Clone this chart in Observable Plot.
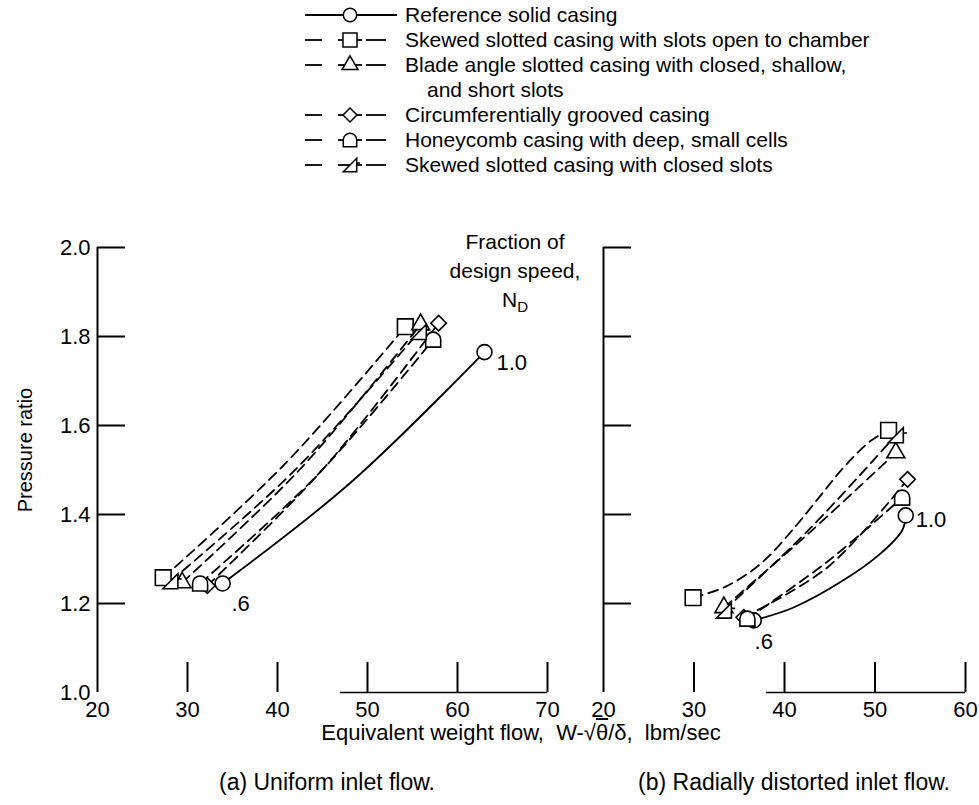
<!DOCTYPE html>
<html><head><meta charset="utf-8">
<script src="https://cdn.jsdelivr.net/npm/d3@7"></script>
<script src="https://cdn.jsdelivr.net/npm/@observablehq/plot@0.6"></script>
<style>
html,body{margin:0;padding:0;background:#fff;}
#fig{position:relative;width:979px;height:805px;overflow:hidden;color:#000;
 font-family:"Liberation Sans Narrow","Liberation Sans",Arial,sans-serif;}
.abs{position:absolute;white-space:nowrap;font-size:22px;line-height:1;}
.plot{position:absolute;top:200px;}
</style></head><body><div id="fig"></div>
<script>
// ---------- data ----------
const seriesNames = [
  "Reference solid casing",
  "Skewed slotted casing with slots open to chamber",
  "Blade angle slotted casing with closed, shallow, and short slots",
  "Circumferentially grooved casing",
  "Honeycomb casing with deep, small cells",
  "Skewed slotted casing with closed slots"
];
const legendLines = [
  "Reference solid casing",
  "Skewed slotted casing with slots open to chamber",
  "Blade angle slotted casing with closed, shallow,",
  "and short slots",
  "Circumferentially grooved casing",
  "Honeycomb casing with deep, small cells",
  "Skewed slotted casing with closed slots"
];
const speedLabels = ["1.0", ".6"];
const xTicksA = [20, 30, 40, 50, 60, 70];
const xTicksB = [20, 30, 40, 50, 60];
const yTicks = [1.0, 1.2, 1.4, 1.6, 1.8, 2.0];
const captionA = "(a) Uniform inlet flow.";
const captionB = "(b) Radially distorted inlet flow.";
const yTitle = "Pressure ratio";

// points: [equivalent weight flow, pressure ratio, fraction of design speed (null = point read on faired curve)]
// (a) uniform inlet flow
const aReference  = [[33.9,1.245,0.6],[48.2,1.473,null],[63.0,1.765,1.0]];
const aSkewedOpen = [[27.3,1.258,0.6],[40.8,1.513,null],[54.2,1.822,1.0]];
const aBladeAngle = [[29.4,1.247,0.6],[42.7,1.506,null],[55.9,1.827,1.0]];
const aGrooved    = [[32.2,1.240,0.6],[45.1,1.503,null],[57.9,1.830,1.0]];
const aHoneycomb  = [[31.4,1.245,0.6],[44.4,1.488,null],[57.3,1.793,1.0]];
const aSkewClosed = [[28.1,1.250,0.6],[41.9,1.499,null],[55.7,1.810,1.0]];
// (b) radially distorted inlet flow
const bReference  = [[36.6,1.162,0.6],[41.0,1.191,null],[46.5,1.252,null],[50.6,1.312,null],[53.0,1.364,null],[53.4,1.398,1.0]];
const bSkewedOpen = [[29.9,1.213,0.6],[33.5,1.238,null],[37.3,1.288,null],[41.0,1.368,null],[44.0,1.443,null],[46.5,1.505,null],[49.5,1.565,null],[51.5,1.589,1.0]];
const bBladeAngle = [[33.3,1.191,0.6],[42.8,1.360,null],[52.3,1.539,1.0]];
const bGrooved    = [[35.5,1.169,0.6],[44.8,1.282,null],[53.6,1.479,1.0]];
const bHoneycomb  = [[35.9,1.166,0.6],[44.8,1.295,null],[53.0,1.438,1.0]];
const bSkewClosed = [[33.3,1.184,0.6],[42.8,1.368,null],[52.3,1.578,1.0]];

// ---------- styling ----------
const FONT = '"Liberation Sans Narrow","Liberation Sans",Arial,sans-serif';
const symHoney = {draw(ctx, size){const R=Math.sqrt(size/Math.PI);ctx.moveTo(-R,0);ctx.arc(0,0,R,Math.PI,2*Math.PI);ctx.lineTo(R,R);ctx.lineTo(-R,R);ctx.closePath();}};
const symSkew = {draw(ctx, size){const R=Math.sqrt(size/Math.PI);ctx.moveTo(-R,R);ctx.lineTo(R,-R);ctx.lineTo(R,R);ctx.closePath();ctx.moveTo(R,-R*0.3);ctx.lineTo(R+R*0.5,-R*0.3);}};
const styles = [
  {symbol: d3.symbolCircle, r: 7.5, dash: null},
  {symbol: d3.symbolSquare2, r: 10, dash: "10,6"},
  {symbol: d3.symbolTriangle2, r: 8.5, dash: "10,6"},
  {symbol: d3.symbolDiamond2, r: 7, dash: "10,6"},
  {symbol: symHoney, r: 7.5, dash: "10,6"},
  {symbol: symSkew, r: 7.5, dash: "10,6"}
];

const fig = document.getElementById("fig");

function panel(seriesData, {xDomain, xTicks, width, marginLeft, marginRight, yLabels, baseline, refLabelOffsets}) {
  const k = (width - marginLeft - marginRight) / (xDomain[1] - xDomain[0]);
  const ky = 445; // px per unit of pressure ratio
  const x0 = xDomain[0];
  const marks = [];
  marks.push(Plot.ruleX([x0], {y1: 1, y2: 2, strokeWidth: 2}));
  marks.push(Plot.ruleY(yTicks.filter(d => d > 1), {x1: x0, x2: x0 + 28 / k, strokeWidth: 2}));
  marks.push(Plot.ruleX(xTicks.filter(d => d > x0), {y1: 1, y2: 1 + 30 / ky, strokeWidth: 2}));
  marks.push(Plot.ruleY([1], {x1: baseline[0], x2: baseline[1], strokeWidth: 1.5}));
  seriesData.forEach((pts, i) => {
    marks.push(Plot.line(pts, {x: d => d[0], y: d => d[1], curve: "catmull-rom", stroke: "black", strokeWidth: 1.8, strokeDasharray: styles[i].dash}));
  });
  seriesData.forEach((pts, i) => {
    marks.push(Plot.dot(pts.filter(d => d[2] != null), {x: d => d[0], y: d => d[1], symbol: styles[i].symbol, r: styles[i].r, stroke: "black", fill: "white", strokeWidth: 1.6}));
  });
  const ref = seriesData[0];
  const hi = ref.filter(d => d[2] === 1.0), lo = ref.filter(d => d[2] === 0.6);
  marks.push(Plot.text(hi, {x: d => d[0], y: d => d[1], text: () => speedLabels[0], textAnchor: "start", dx: refLabelOffsets[0][0], dy: refLabelOffsets[0][1], fontSize: 22}));
  marks.push(Plot.text(lo, {x: d => d[0], y: d => d[1], text: () => speedLabels[1], textAnchor: "middle", dx: refLabelOffsets[1][0], dy: refLabelOffsets[1][1], fontSize: 22}));
  if (yLabels) {
    marks.push(Plot.axisY(yTicks, {tickSize: 0, tickPadding: 7, tickFormat: d3.format(".1f"), fontSize: 22, label: null}));
    marks.push(Plot.text([yTitle], {frameAnchor: "left", textAnchor: "middle", rotate: -90, dx: -72, dy: -20, fontSize: 20}));
  }
  marks.push(Plot.axisX(xTicks, {tickSize: 0, tickPadding: 9, tickFormat: d => String(d), fontSize: 22, label: null}));
  return Plot.plot({
    width, height: 520, marginLeft, marginRight, marginTop: 47, marginBottom: 28,
    x: {domain: xDomain}, y: {domain: [1, 2], axis: null},
    style: {fontFamily: FONT, fontSize: "22px", background: "transparent", overflow: "visible", color: "black"},
    marks
  });
}

const left = panel([aReference, aSkewedOpen, aBladeAngle, aGrooved, aHoneycomb, aSkewClosed], {
  xDomain: [20, 70], xTicks: xTicksA, width: 560, marginLeft: 97, marginRight: 13, yLabels: true,
  baseline: [47, 70], refLabelOffsets: [[12, 11], [18, 20]]
});
left.classList.add("plot"); left.style.left = "0px";
fig.appendChild(left);

const right = panel([bReference, bSkewedOpen, bBladeAngle, bGrooved, bHoneycomb, bSkewClosed], {
  xDomain: [20, 60], xTicks: xTicksB, width: 419, marginLeft: 43, marginRight: 14, yLabels: false,
  baseline: [38, 60], refLabelOffsets: [[10, 5], [10, 22]]
});
right.classList.add("plot"); right.style.left = "560px";
fig.appendChild(right);

// ---------- legend ----------
const lg = d3.select(fig).append("svg").attr("width", 979).attr("height", 195)
  .style("position", "absolute").style("left", "0px").style("top", "0px")
  .style("font-family", FONT).style("font-size", "21px");
const seriesRows = [0, 1, 2, 4, 5, 6];
const rowY = i => 15 + 25 * i;
legendLines.forEach((t, i) => {
  lg.append("text").attr("x", i === 3 ? 427 : 405).attr("y", rowY(i)).attr("dy", "0.35em").text(t);
});
seriesRows.forEach((row, si) => {
  const y = rowY(row);
  const g = lg.append("g");
  if (si === 0) {
    g.append("line").attr("x1", 305).attr("x2", 397).attr("y1", y).attr("y2", y).attr("stroke", "black").attr("stroke-width", 1.8);
  } else {
    [[305, 322], [338, 362], [366, 386]].forEach(([a, b]) =>
      g.append("line").attr("x1", a).attr("x2", b).attr("y1", y).attr("y2", y).attr("stroke", "black").attr("stroke-width", 1.8));
  }
  const st = styles[si];
  g.append("path").attr("transform", `translate(350,${y})`)
    .attr("d", d3.symbol(st.symbol, Math.PI * st.r * st.r * 0.8)())
    .attr("fill", "white").attr("stroke", "black").attr("stroke-width", 1.5);
});

// ---------- texts ----------
function addText(html, x, y, anchor, size) {
  const d = document.createElement("div");
  d.className = "abs"; d.innerHTML = html;
  if (size) d.style.fontSize = size + "px";
  d.style.top = (y - (size || 22) / 2) + "px"; d.style.left = x + "px";
  if (anchor === "middle") d.style.transform = "translateX(-50%)";
  fig.appendChild(d); return d;
}
const fr = addText("Fraction of<br>design speed,<br>N<sub style='font-size:15px'>D</sub>", 515, 242, "middle", 21);
fr.style.textAlign = "center"; fr.style.lineHeight = "29px"; fr.style.top = (242 - 15) + "px";
addText("Equivalent weight flow, &nbsp;W-√<span style='text-decoration:overline'>θ</span>/δ, &nbsp;lbm/sec", 521, 733, "middle", 22);
addText(captionA, 327, 782, "middle", 23);
addText(captionB, 794, 782, "middle", 23);
</script></body></html>
